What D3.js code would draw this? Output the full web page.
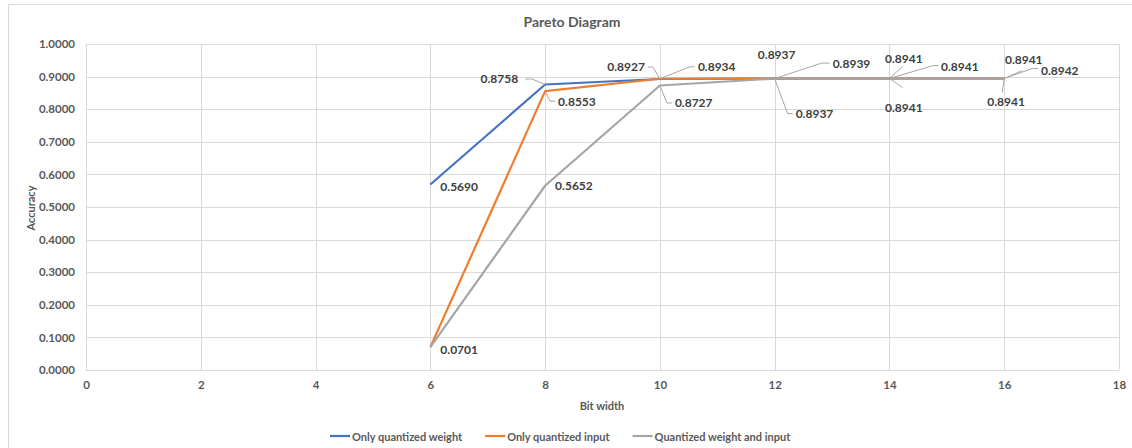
<!DOCTYPE html>
<html>
<head>
<meta charset="utf-8">
<script src="https://cdn.jsdelivr.net/npm/d3@7"></script>
<style>
  html, body { margin: 0; padding: 0; background: #fff; }
  svg { display: block; font-family: Lato, "Open Sans", sans-serif; }
</style>
</head>
<body>
<svg id="chart" width="1132" height="448"></svg>
<script>
// ---- data ----
const bitWidths = [6, 8, 10, 12, 14, 16];
const seriesNames = ["Only quantized weight", "Only quantized input", "Quantized weight and input"];
const onlyWeight = [0.5690, 0.8758, 0.8927, 0.8937, 0.8941, 0.8941];
const onlyInput = [0.0701, 0.8553, 0.8934, 0.8937, 0.8941, 0.8942];
const weightAndInput = [0.0701, 0.5652, 0.8727, 0.8939, 0.8941, 0.8941];
const xTicks = [0, 2, 4, 6, 8, 10, 12, 14, 16, 18];
const yTicks = [0, 0.1, 0.2, 0.3, 0.4, 0.5, 0.6, 0.7, 0.8, 0.9, 1.0];
const seriesColors = ["#4472C4", "#ED7D31", "#A5A5A5"];

// label placement: [series, index, dx, dy, anchor, leader points relative to data point]
const labelLayout = [
  [0, 0, 10, 2, "start", null],
  [0, 1, -27, -5.5, "end", [[0, 0], [-13, -5.5], [-20, -5.5]]],
  [1, 1, 13, 10, "start", [[0, 0], [5, 10], [10, 10]]],
  [2, 1, 10, 0, "start", null],
  [1, 0, 10, 2, "start", null],
  [0, 2, -15, -12, "end", [[0, 0], [-7, -12], [-12, -12]]],
  [1, 2, 38, -12, "start", [[0, 0], [30, -12], [35, -12]]],
  [2, 2, 15, 17.5, "start", [[0, 0], [7, 17.5], [12, 17.5]]],
  [0, 3, 2, -24, "middle", null],
  [2, 3, 58, -15.5, "start", [[0, 0], [47, -15.5], [55, -15.5]]],
  [1, 3, 21, 35, "start", [[0, 0], [13, 35], [18, 35]]],
  [0, 4, -4.5, -20.5, "start", [[0, 0], [13, -12]]],
  [1, 4, 51.5, -12.5, "start", [[0, 0], [44, -13], [49, -13]]],
  [2, 4, -4.5, 28.5, "start", [[0, 0], [13, 9]]],
  [0, 5, 0.7, -19.5, "start", [[0, 0], [18, -8]]],
  [1, 5, 36.7, -7.5, "start", [[0, 0], [28, -10], [34, -10]]],
  [2, 5, -17, 22.5, "start", [[0, 0], [-2, 14]]]
];

const allSeries = [onlyWeight, onlyInput, weightAndInput];

const svg = d3.select("#chart");
const x = d3.scaleLinear().domain([0, 18]).range([86, 1119]);
const y = d3.scaleLinear().domain([0, 1]).range([370, 44]);

const gridColor = "#d9d9d9";
const textColor = "#595959";
const font = "Lato, 'Open Sans', sans-serif";

// chart frame (left and top edges visible)
svg.append("line").attr("x1", 8.5).attr("x2", 8.5).attr("y1", 4.5).attr("y2", 448).attr("stroke", gridColor);
svg.append("line").attr("x1", 8.5).attr("x2", 1132).attr("y1", 4.5).attr("y2", 4.5).attr("stroke", gridColor);

// title
svg.append("text").attr("x", 572).attr("y", 21).attr("text-anchor", "middle")
  .attr("dominant-baseline", "central").attr("font-size", 14).attr("font-weight", 700)
  .attr("fill", textColor).text("Pareto Diagram");

// grid
const grid = svg.append("g");
grid.selectAll(".hg").data(yTicks).join("line")
  .attr("x1", x(0)).attr("x2", x(18))
  .attr("y1", d => Math.round(y(d)) + 0.5).attr("y2", d => Math.round(y(d)) + 0.5)
  .attr("stroke", gridColor);
grid.selectAll(".vg").data(xTicks).join("line")
  .attr("y1", y(0)).attr("y2", y(1))
  .attr("x1", d => Math.round(x(d)) + 0.5).attr("x2", d => Math.round(x(d)) + 0.5)
  .attr("stroke", gridColor);

// axes (labels only)
const yAxis = d3.axisLeft(y).tickValues(yTicks).tickFormat(d3.format(".4f")).tickSize(0).tickPadding(11);
const gy = svg.append("g").attr("transform", `translate(${x(0)},0)`).call(yAxis);
gy.select(".domain").remove();
gy.selectAll("text").attr("font-size", 11.5).attr("font-weight", 700).attr("fill", textColor)
  .attr("font-family", font);

const xAxis = d3.axisBottom(x).tickValues(xTicks).tickFormat(d3.format("d")).tickSize(0).tickPadding(11);
const gx = svg.append("g").attr("transform", `translate(0,${y(0)})`).call(xAxis);
gx.select(".domain").remove();
gx.selectAll("text").attr("font-size", 11.5).attr("font-weight", 700).attr("fill", textColor)
  .attr("font-family", font);

// axis titles
svg.append("text").attr("x", 602).attr("y", 405).attr("text-anchor", "middle")
  .attr("dominant-baseline", "central").attr("font-size", 11).attr("font-weight", 700)
  .attr("fill", textColor).text("Bit width");
svg.append("text").attr("transform", "translate(30,208) rotate(-90)").attr("text-anchor", "middle")
  .attr("dominant-baseline", "central").attr("font-size", 11).attr("font-weight", 700)
  .attr("fill", textColor).text("Accuracy");

// lines
const line = d3.line().x((d, i) => x(bitWidths[i])).y(d => y(d));
allSeries.forEach((s, k) => {
  svg.append("path").datum(s).attr("d", line).attr("fill", "none")
    .attr("stroke", seriesColors[k]).attr("stroke-width", 2.2).attr("stroke-linejoin", "round");
});

// data labels
const lab = svg.append("g");
labelLayout.forEach(([si, idx, dx, dy, anchor, leader]) => {
  const px = x(bitWidths[idx]), py = y(allSeries[si][idx]);
  if (leader) {
    lab.append("polyline")
      .attr("points", leader.map(p => `${px + p[0]},${py + p[1]}`).join(" "))
      .attr("fill", "none").attr("stroke", "#a6a6a6").attr("stroke-width", 1);
  }
  lab.append("text").attr("x", px + dx).attr("y", py + dy).attr("text-anchor", anchor)
    .attr("dominant-baseline", "central").attr("font-size", 12).attr("font-weight", 700)
    .attr("fill", "#404040").text(d3.format(".4f")(allSeries[si][idx]));
});

// legend
const legend = svg.append("g");
let lx = 330;
seriesNames.forEach((name, k) => {
  legend.append("line").attr("x1", lx).attr("x2", lx + 20).attr("y1", 436).attr("y2", 436)
    .attr("stroke", seriesColors[k]).attr("stroke-width", 2.2);
  const t = legend.append("text").attr("x", lx + 22).attr("y", 436).attr("dominant-baseline", "central")
    .attr("font-size", 11).attr("font-weight", 700).attr("fill", textColor).text(name);
  lx += 22 + t.node().getComputedTextLength() + 23;
});
</script>
</body>
</html>
